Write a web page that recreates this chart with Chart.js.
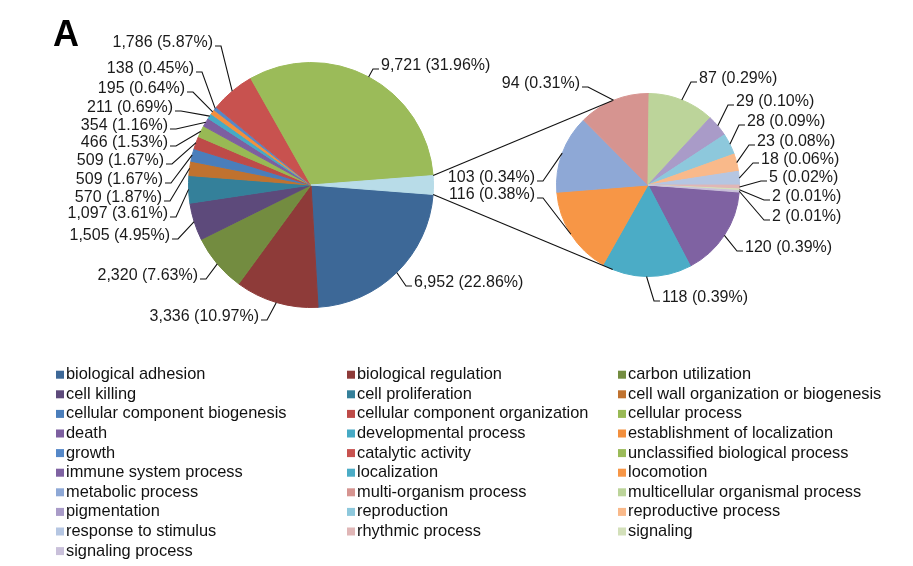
<!DOCTYPE html>
<html>
<head>
<meta charset="utf-8">
<script src="https://cdn.jsdelivr.net/npm/chart.js@4.4.1/dist/chart.umd.min.js"></script>
<style>
	html, body { margin: 0; padding: 0; background: #fff; }
	#wrap { position: relative; width: 913px; height: 566px; }
	#wrap canvas { position: absolute; left: 0; top: 0; }
</style>
</head>
<body>
<div id="wrap">
	<canvas id="mainPie" width="913" height="566"></canvas>
	<canvas id="subPie" width="913" height="566"></canvas>
</div>
<script>
// GO categories, in series order (first 15 go in the big pie, the rest in the small one)
const categories = [
	'biological adhesion', 'biological regulation', 'carbon utilization',
	'cell killing', 'cell proliferation', 'cell wall organization or biogenesis',
	'cellular component biogenesis', 'cellular component organization', 'cellular process',
	'death', 'developmental process', 'establishment of localization',
	'growth', 'catalytic activity', 'unclassified biological process',
	'immune system process', 'localization', 'locomotion',
	'metabolic process', 'multi-organism process', 'multicellular organismal process',
	'pigmentation', 'reproduction', 'reproductive process',
	'response to stimulus', 'rhythmic process', 'signaling',
	'signaling process'
];
const counts = [
	6952, 3336, 2320, 1505, 1097, 570, 509, 509, 466, 354, 211, 195, 138, 1786, 9721,
	120, 118, 116, 103, 94, 87, 29, 28, 23, 18, 5, 2, 2
];
const colors = [
	'#3D6897', '#8E3B39', '#738C40', '#5D4A7B', '#34809A', '#C0722F',
	'#4A7EBB', '#BE4B48', '#98B954', '#7D5FA0', '#46AAC5', '#F38F3D',
	'#5588C8', '#C8524F', '#9BBB59', '#7F62A2', '#4BACC6', '#F79646',
	'#8EA8D6', '#D69490', '#BCD49A', '#A99BC8', '#8DC8DC', '#F9B98A',
	'#B5C6E2', '#E0B6B6', '#D3E0BA', '#C9C0DA'
];
const splitAt = 15;
const otherColor = '#B8DCE8';

// label anchors: side ('l' = text ends at x, 'r' = text starts at x), x, middle y
const mainLabelPos = [
	['r', 414, 283], ['l', 259, 317], ['l', 198, 276], ['l', 170, 236], ['l', 168, 214],
	['l', 162, 198], ['l', 163, 180], ['l', 164, 161], ['l', 168, 143], ['l', 168, 126],
	['l', 173, 108], ['l', 185, 89], ['l', 194, 69], ['l', 213, 43], ['r', 381, 66]
];
const subLabelPos = [
	['r', 745, 248], ['r', 662, 298], ['l', 535, 195], ['l', 535, 178], ['l', 580, 84],
	['r', 699, 79], ['r', 736, 102], ['r', 747, 122], ['r', 757, 142], ['r', 761, 160],
	['r', 769, 178], ['r', 772, 197], ['r', 772, 217]
];

const mainValues = counts.slice(0, splitAt);
const subValues = counts.slice(splitAt);
const otherSum = subValues.reduce((a, b) => a + b, 0);
const total = counts.reduce((a, b) => a + b, 0);
const startAngle = 90 + otherSum / total * 180;

const labelFont = '16px "Liberation Sans", Arial, sans-serif';
const legendFont = '16.4px "Liberation Sans", Arial, sans-serif';

function fmt(v) {
	return v.toLocaleString('en-US') + ' (' + (v / total * 100).toFixed(2) + '%)';
}

function arcPoint(arc, angle) {
	if (angle === undefined) angle = (arc.startAngle + arc.endAngle) / 2;
	return {x: arc.x + Math.cos(angle) * arc.outerRadius, y: arc.y + Math.sin(angle) * arc.outerRadius};
}

function drawLabels(chart, values, positions) {
	const ctx = chart.ctx;
	const arcs = chart.getDatasetMeta(0).data;
	ctx.save();
	ctx.font = labelFont;
	ctx.fillStyle = '#1a1a1a';
	ctx.strokeStyle = '#111';
	ctx.lineWidth = 1.1;
	ctx.textBaseline = 'middle';
	positions.forEach((p, i) => {
		const side = p[0], x = p[1], y = p[2];
		const pt = arcPoint(arcs[i]);
		const dir = side === 'r' ? -1 : 1;
		ctx.beginPath();
		ctx.moveTo(pt.x, pt.y);
		ctx.lineTo(x + dir * 8, y + 3);
		ctx.lineTo(x + dir * 2, y + 3);
		ctx.stroke();
		ctx.textAlign = side === 'r' ? 'left' : 'right';
		ctx.fillText(fmt(values[i]), x, y);
	});
	ctx.restore();
}

const mainPlugin = {
	id: 'mainExtras',
	afterDraw(chart) {
		const ctx = chart.ctx;
		drawLabels(chart, mainValues, mainLabelPos);

		// panel letter
		ctx.save();
		ctx.font = 'bold 36px "Liberation Sans", Arial, sans-serif';
		ctx.fillStyle = '#000';
		ctx.textBaseline = 'alphabetic';
		ctx.fillText('A', 53, 46);

		// legend, three columns, row by row
		const cols = [66, 357, 628];
		ctx.font = legendFont;
		ctx.textBaseline = 'middle';
		categories.forEach((name, i) => {
			const x = cols[i % 3];
			const y = 374.7 + Math.floor(i / 3) * 19.6;
			ctx.fillStyle = colors[i];
			ctx.fillRect(x - 10, y - 4, 8, 8);
			ctx.fillStyle = '#111';
			ctx.fillText(name, x, y);
		});
		ctx.restore();
	}
};

let mainChart;

const subPlugin = {
	id: 'subExtras',
	afterDraw(chart) {
		const ctx = chart.ctx;
		drawLabels(chart, subValues, subLabelPos);

		// lines joining the "other" slice to the small pie
		const other = mainChart.getDatasetMeta(0).data[splitAt];
		const c = chart.getDatasetMeta(0).data[0];
		const r = c.outerRadius;
		ctx.save();
		ctx.strokeStyle = '#111';
		ctx.lineWidth = 1.1;
		[[other.startAngle, 1], [other.endAngle, -1]].forEach(([ang, sgn]) => {
			const p = arcPoint(other, ang);
			const d = Math.hypot(p.x - c.x, p.y - c.y);
			const t = Math.atan2(p.y - c.y, p.x - c.x) + sgn * Math.acos(r / d);
			ctx.beginPath();
			ctx.moveTo(p.x, p.y);
			ctx.lineTo(c.x + Math.cos(t) * r, c.y + Math.sin(t) * r);
			ctx.stroke();
		});
		ctx.restore();
	}
};

const mainConfig = {
	type: 'pie',
	data: {
		labels: categories.slice(0, splitAt).concat(['Other']),
		datasets: [{
			data: mainValues.concat([otherSum]),
			backgroundColor: colors.slice(0, splitAt).concat([otherColor]),
			borderColor: colors.slice(0, splitAt).concat([otherColor]),
			borderWidth: 1,
			hoverOffset: 0
		}]
	},
	options: {
		responsive: false,
		animation: false,
		rotation: startAngle,
		layout: {padding: {left: 188, top: 62, right: 479, bottom: 258}},
		plugins: {legend: {display: false}, tooltip: {enabled: false}}
	},
	plugins: [mainPlugin]
};

const subConfig = {
	type: 'pie',
	data: {
		labels: categories.slice(splitAt),
		datasets: [{
			data: subValues,
			backgroundColor: colors.slice(splitAt),
			borderColor: colors.slice(splitAt),
			borderWidth: 1,
			hoverOffset: 0
		}]
	},
	options: {
		responsive: false,
		animation: false,
		rotation: startAngle,
		layout: {padding: {left: 556, top: 93, right: 173, bottom: 289}},
		plugins: {legend: {display: false}, tooltip: {enabled: false}}
	},
	plugins: [subPlugin]
};

mainChart = new Chart(document.getElementById('mainPie'), mainConfig);
const subChart = new Chart(document.getElementById('subPie'), subConfig);
</script>
</body>
</html>
